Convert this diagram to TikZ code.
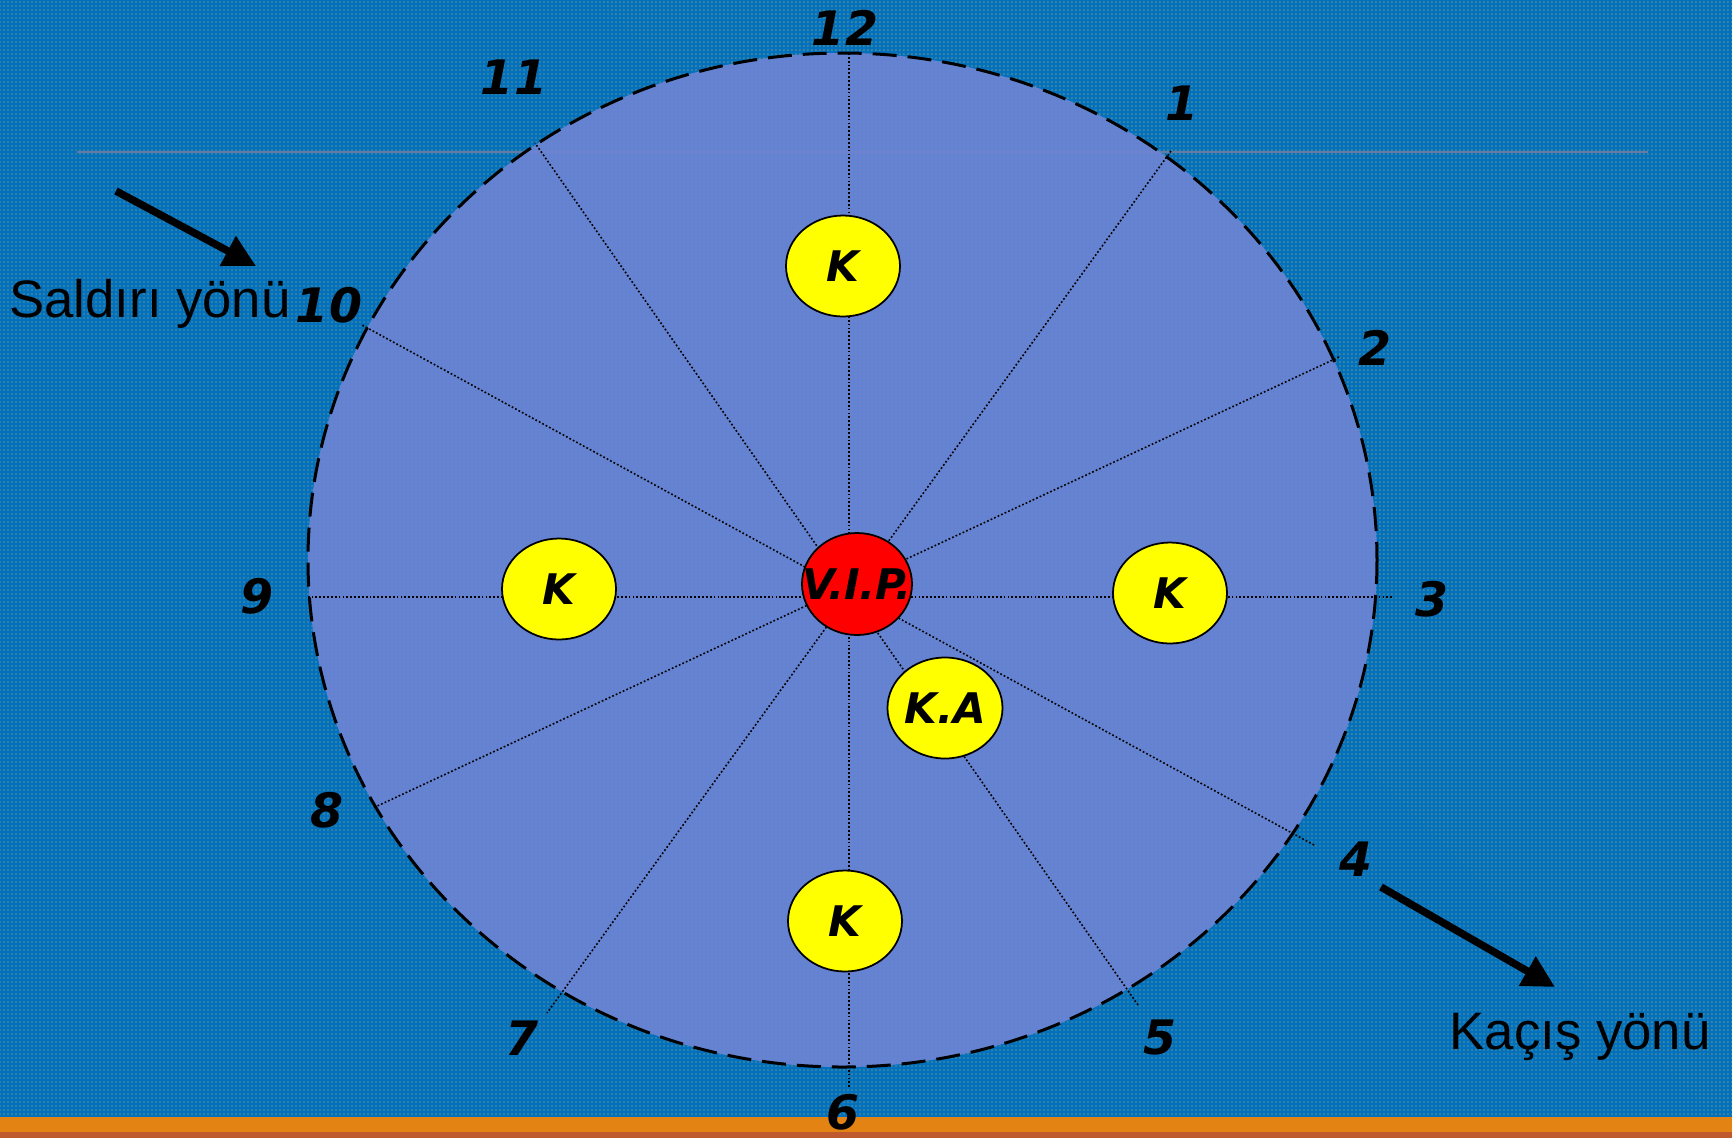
\documentclass[tikz,border=0pt]{standalone}
\usepackage{fontspec}
\usepackage{xcolor}
\usepackage{tikz}
\usetikzlibrary{shapes.geometric,arrows.meta,patterns.meta}
\newfontfamily\clockfont{DejaVu Sans}
\newfontfamily\arialfont{Liberation Sans}
\definecolor{SlideBlue}{RGB}{0,112,192}
\definecolor{DotYellow}{RGB}{225,185,45}
\definecolor{DiscBlue}{RGB}{111,132,212}
\definecolor{GuardYellow}{RGB}{255,255,0}
\definecolor{VipRed}{RGB}{255,0,0}
\definecolor{BarOrange}{RGB}{226,131,20}
\definecolor{BarBrown}{RGB}{190,90,45}
\definecolor{TemplateLine}{RGB}{140,128,160}

\tikzdeclarepattern{
  name=slidedots,
  type=colored,
  bottom left={(-0.2mm,-0.2mm)},
  top right={(0.2mm,0.2mm)},
  tile size={(0.4mm,0.4mm)},
  code={\fill[DotYellow] (0mm,0mm) circle (0.07mm);}
}

\tikzset{
  clocknum/.style={font=\clockfont\bfseries\itshape\fontsize{13.5}{15}\selectfont},
  guard/.style={ellipse,draw=black,line width=0.5pt,fill=GuardYellow,inner sep=0pt,
                minimum width=11.4mm,minimum height=10.1mm,
                font=\clockfont\bfseries\itshape\fontsize{12}{14}\selectfont},
  spoke/.style={draw=black,line width=0.45pt,dash pattern=on 0.5pt off 0.6pt},
  dirarrow/.style={line width=0.75mm,-{Triangle[length=3.2mm,width=3.2mm]}},
  dirtext/.style={font=\arialfont\fontsize{15}{18}\selectfont,anchor=base}
}

\begin{document}
\begin{tikzpicture}[x=0.1mm,y=-0.1mm]
    \useasboundingbox (0,0) rectangle (1732,1138);
    \fill[SlideBlue] (0,0) rectangle (1732,1138);
    \fill[pattern=slidedots] (0,0) rectangle (1732,1117);
    \fill[BarOrange] (0,1117) rectangle (1732,1132);
    \fill[BarBrown] (0,1132) rectangle (1732,1138);
    \draw[TemplateLine,line width=0.12mm,opacity=0.7] (77,152) -- (1648,152);

    \fill[DiscBlue,opacity=0.9] (842.5,560) ellipse [x radius=534.5,y radius=507];
    \draw[line width=0.3mm,dash pattern=on 2.4mm off 1.1mm]
      (842.5,560) ellipse [x radius=534.5,y radius=507];

    \coordinate (h12) at (849,53);
    \coordinate (h1) at (1171,151);
    \coordinate (h2) at (1339,357);
    \coordinate (h3) at (1392,597);
    \coordinate (h4) at (1314,845);
    \coordinate (h5) at (1138,1005);
    \coordinate (h6) at (849,1088);
    \coordinate (h7) at (547,1013);
    \coordinate (h8) at (373,808);
    \coordinate (h9) at (308,597);
    \coordinate (h10) at (362,325);
    \coordinate (h11) at (535,143);
    \foreach \a/\b in {12/6,1/7,2/8,3/9,4/10,5/11}
      \draw[spoke] (h\a) -- (h\b);

    \foreach \n/\x/\y in {12/845/28,1/1182/103,2/1375/348,3/1432/599,4/1356/859,5/1160/1038,
                          6/843/1112,7/522/1038,8/327/810,9/257/596,10/329/305,11/514/77}
      \node[clocknum] (n\n) at (\x,\y) {\n};

    \node[guard] (kTop) at (843,266) {K};
    \node[guard] (kLeft) at (559,589) {K};
    \node[guard] (kRight) at (1170,593) {K};
    \node[guard] (kBottom) at (845,921) {K};
    \node[guard] (kA) at (945,708) {K.A};
    \node[guard,fill=VipRed,minimum width=11mm,minimum height=10.2mm]
      (vip) at (857,584) {\makebox[0pt]{V.I.P.}};

    \coordinate (atkFrom) at (116,191);
    \coordinate (atkTo) at (256,266);
    \draw[dirarrow] (atkFrom) -- (atkTo);
    \node[dirtext] (atkLabel) at (150,317) {Saldırı yönü};

    \coordinate (escFrom) at (1381,887);
    \coordinate (escTo) at (1555,987);
    \draw[dirarrow] (escFrom) -- (escTo);
    \node[dirtext] (escLabel) at (1580,1049) {Kaçış yönü};
\end{tikzpicture}
\end{document}
